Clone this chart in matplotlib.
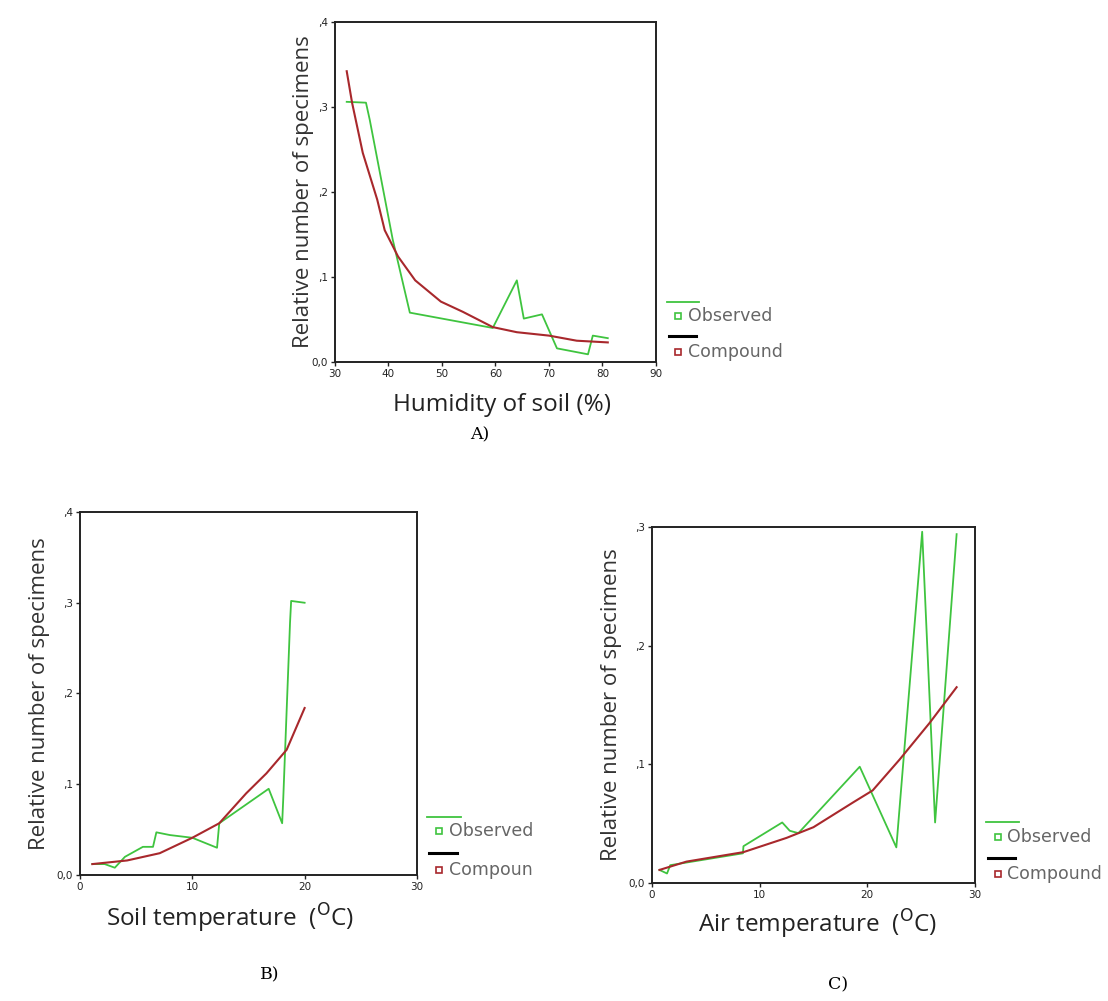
import matplotlib.pyplot as plt
from matplotlib.lines import Line2D
from matplotlib.ticker import FuncFormatter

# Panel A - humidity of soil
hum_obs_x = [32.2, 35.8, 36.5, 40.8, 44.0, 59.5, 64.0, 65.3, 68.7, 71.5, 77.3, 78.2, 81.0]
hum_obs_y = [0.306, 0.305, 0.285, 0.144, 0.058, 0.040, 0.096, 0.051, 0.056, 0.016, 0.009, 0.031, 0.028]
hum_fit_x = [32.2, 33.2, 35.2, 37.9, 39.3, 41.8, 45.0, 49.8, 53.9, 59.5, 64.0, 70.0, 75.2, 81.0]
hum_fit_y = [0.342, 0.305, 0.246, 0.191, 0.155, 0.124, 0.096, 0.071, 0.059, 0.041, 0.035, 0.031, 0.025, 0.023]

# Panel B - soil temperature
soil_obs_x = [1.1, 2.2, 3.1, 4.0, 5.6, 6.5, 6.8, 8.0, 10.0, 12.2, 12.4, 16.8, 18.0, 18.1, 18.7, 18.8, 20.0]
soil_obs_y = [0.012, 0.012, 0.008, 0.020, 0.031, 0.031, 0.047, 0.044, 0.041, 0.030, 0.057, 0.095, 0.057, 0.085, 0.278, 0.302, 0.300]
soil_fit_x = [1.1, 4.2, 7.1, 10.0, 12.4, 14.8, 16.6, 18.4, 20.0]
soil_fit_y = [0.012, 0.016, 0.024, 0.041, 0.057, 0.090, 0.112, 0.138, 0.184]

# Panel C - air temperature
air_obs_x = [0.7, 1.4, 1.7, 8.45, 8.5, 12.1, 12.8, 13.6, 19.3, 22.7, 25.1, 26.3, 28.3]
air_obs_y = [0.011, 0.008, 0.015, 0.025, 0.031, 0.051, 0.044, 0.042, 0.098, 0.030, 0.296, 0.051, 0.294]
air_fit_x = [0.7, 3.2, 8.5, 12.5, 15.0, 18.7, 20.5, 23.0, 25.8, 28.3]
air_fit_y = [0.011, 0.018, 0.026, 0.038, 0.047, 0.068, 0.078, 0.104, 0.135, 0.165]

GREEN = "#3fc43f"
RED = "#a8282c"


def comma_fmt(v, pos):
    if abs(v) < 1e-9:
        return "0,0"
    return ("%.1f" % v).replace("0.", ",")


def draw_panel(rect, ox, oy, fx, fy, xlim, xticks, ylim, yticks, xlabel, xlab_pos, ylab_x,
               leg_text, leg_pos):
    ax = fig.add_axes(rect)
    ax.plot(ox, oy, color=GREEN, lw=1.3)
    ax.plot(fx, fy, color=RED, lw=1.5)
    ax.set_xlim(*xlim)
    ax.set_ylim(*ylim)
    ax.set_xticks(xticks)
    ax.set_yticks(yticks)
    ax.yaxis.set_major_formatter(FuncFormatter(comma_fmt))
    ax.tick_params(labelsize=7.5, length=3, width=1, pad=2, colors="#222222")
    for s in ax.spines.values():
        s.set_linewidth(1.4)
        s.set_color("#222222")
    ax.set_ylabel("Relative number of specimens", fontsize=16, family="Open Sans",
                  color="#333333", va="center")
    ax.yaxis.set_label_coords(ylab_x, 0.5)
    ax.set_xlabel(xlabel, fontsize=17.5, family="Open Sans", color="#222222",
                  ha="left", va="center")
    ax.xaxis.set_label_coords(*xlab_pos)

    # legend: a line above each marker + label
    lx, ly = leg_pos
    t = ax.transAxes
    ax.add_line(Line2D([lx, lx + 0.10], [ly, ly], color=GREEN, lw=1.3, transform=t, clip_on=False))
    ax.plot([lx + 0.035], [ly - 0.04], marker="s", ms=4, mfc="none", mec=GREEN, mew=1.2,
            transform=t, clip_on=False)
    ax.text(lx + 0.065, ly - 0.04, "Observed", transform=t, fontsize=12.5, color="#666666",
            va="center", family="DejaVu Sans")
    ax.add_line(Line2D([lx + 0.005, lx + 0.09], [ly - 0.10, ly - 0.10], color="black", lw=2.2,
                       transform=t, clip_on=False))
    ax.plot([lx + 0.035], [ly - 0.145], marker="s", ms=4, mfc="none", mec=RED, mew=1.2,
            transform=t, clip_on=False)
    ax.text(lx + 0.065, ly - 0.145, leg_text, transform=t, fontsize=12.5, color="#666666",
            va="center", family="DejaVu Sans")
    return ax


fig = plt.figure(figsize=(11.08, 10.01), dpi=100)

draw_panel([0.3023, 0.6384, 0.2897, 0.3397], hum_obs_x, hum_obs_y, hum_fit_x, hum_fit_y,
           (30, 90), [30, 40, 50, 60, 70, 80, 90], (0, 0.4), [0, 0.1, 0.2, 0.3, 0.4],
           "Humidity of soil (%)", (0.181, -0.126), -0.098, "Compound", (1.035, 0.175))

draw_panel([0.0722, 0.1259, 0.3041, 0.3626], soil_obs_x, soil_obs_y, soil_fit_x, soil_fit_y,
           (0, 30), [0, 10, 20, 30], (0, 0.4), [0, 0.1, 0.2, 0.3, 0.4],
           r"Soil temperature  ($^\mathrm{O}$C)", (0.077, -0.121), -0.12, "Compoun", (1.03, 0.16))

draw_panel([0.5884, 0.1179, 0.2915, 0.3556], air_obs_x, air_obs_y, air_fit_x, air_fit_y,
           (0, 30), [0, 10, 20, 30], (0, 0.3), [0, 0.1, 0.2, 0.3],
           r"Air temperature  ($^\mathrm{O}$C)", (0.142, -0.115), -0.125, "Compound", (1.035, 0.17))

# panel captions
fig.text(480 / 1108, 1 - 435 / 1001, "A)", fontsize=12.5, family="DejaVu Serif", ha="center", va="center")
fig.text(270 / 1108, 1 - 975 / 1001, "B)", fontsize=12.5, family="DejaVu Serif", ha="center", va="center")
fig.text(838 / 1108, 1 - 985 / 1001, "C)", fontsize=12.5, family="DejaVu Serif", ha="center", va="center")

fig.savefig("out.png", dpi=100)
